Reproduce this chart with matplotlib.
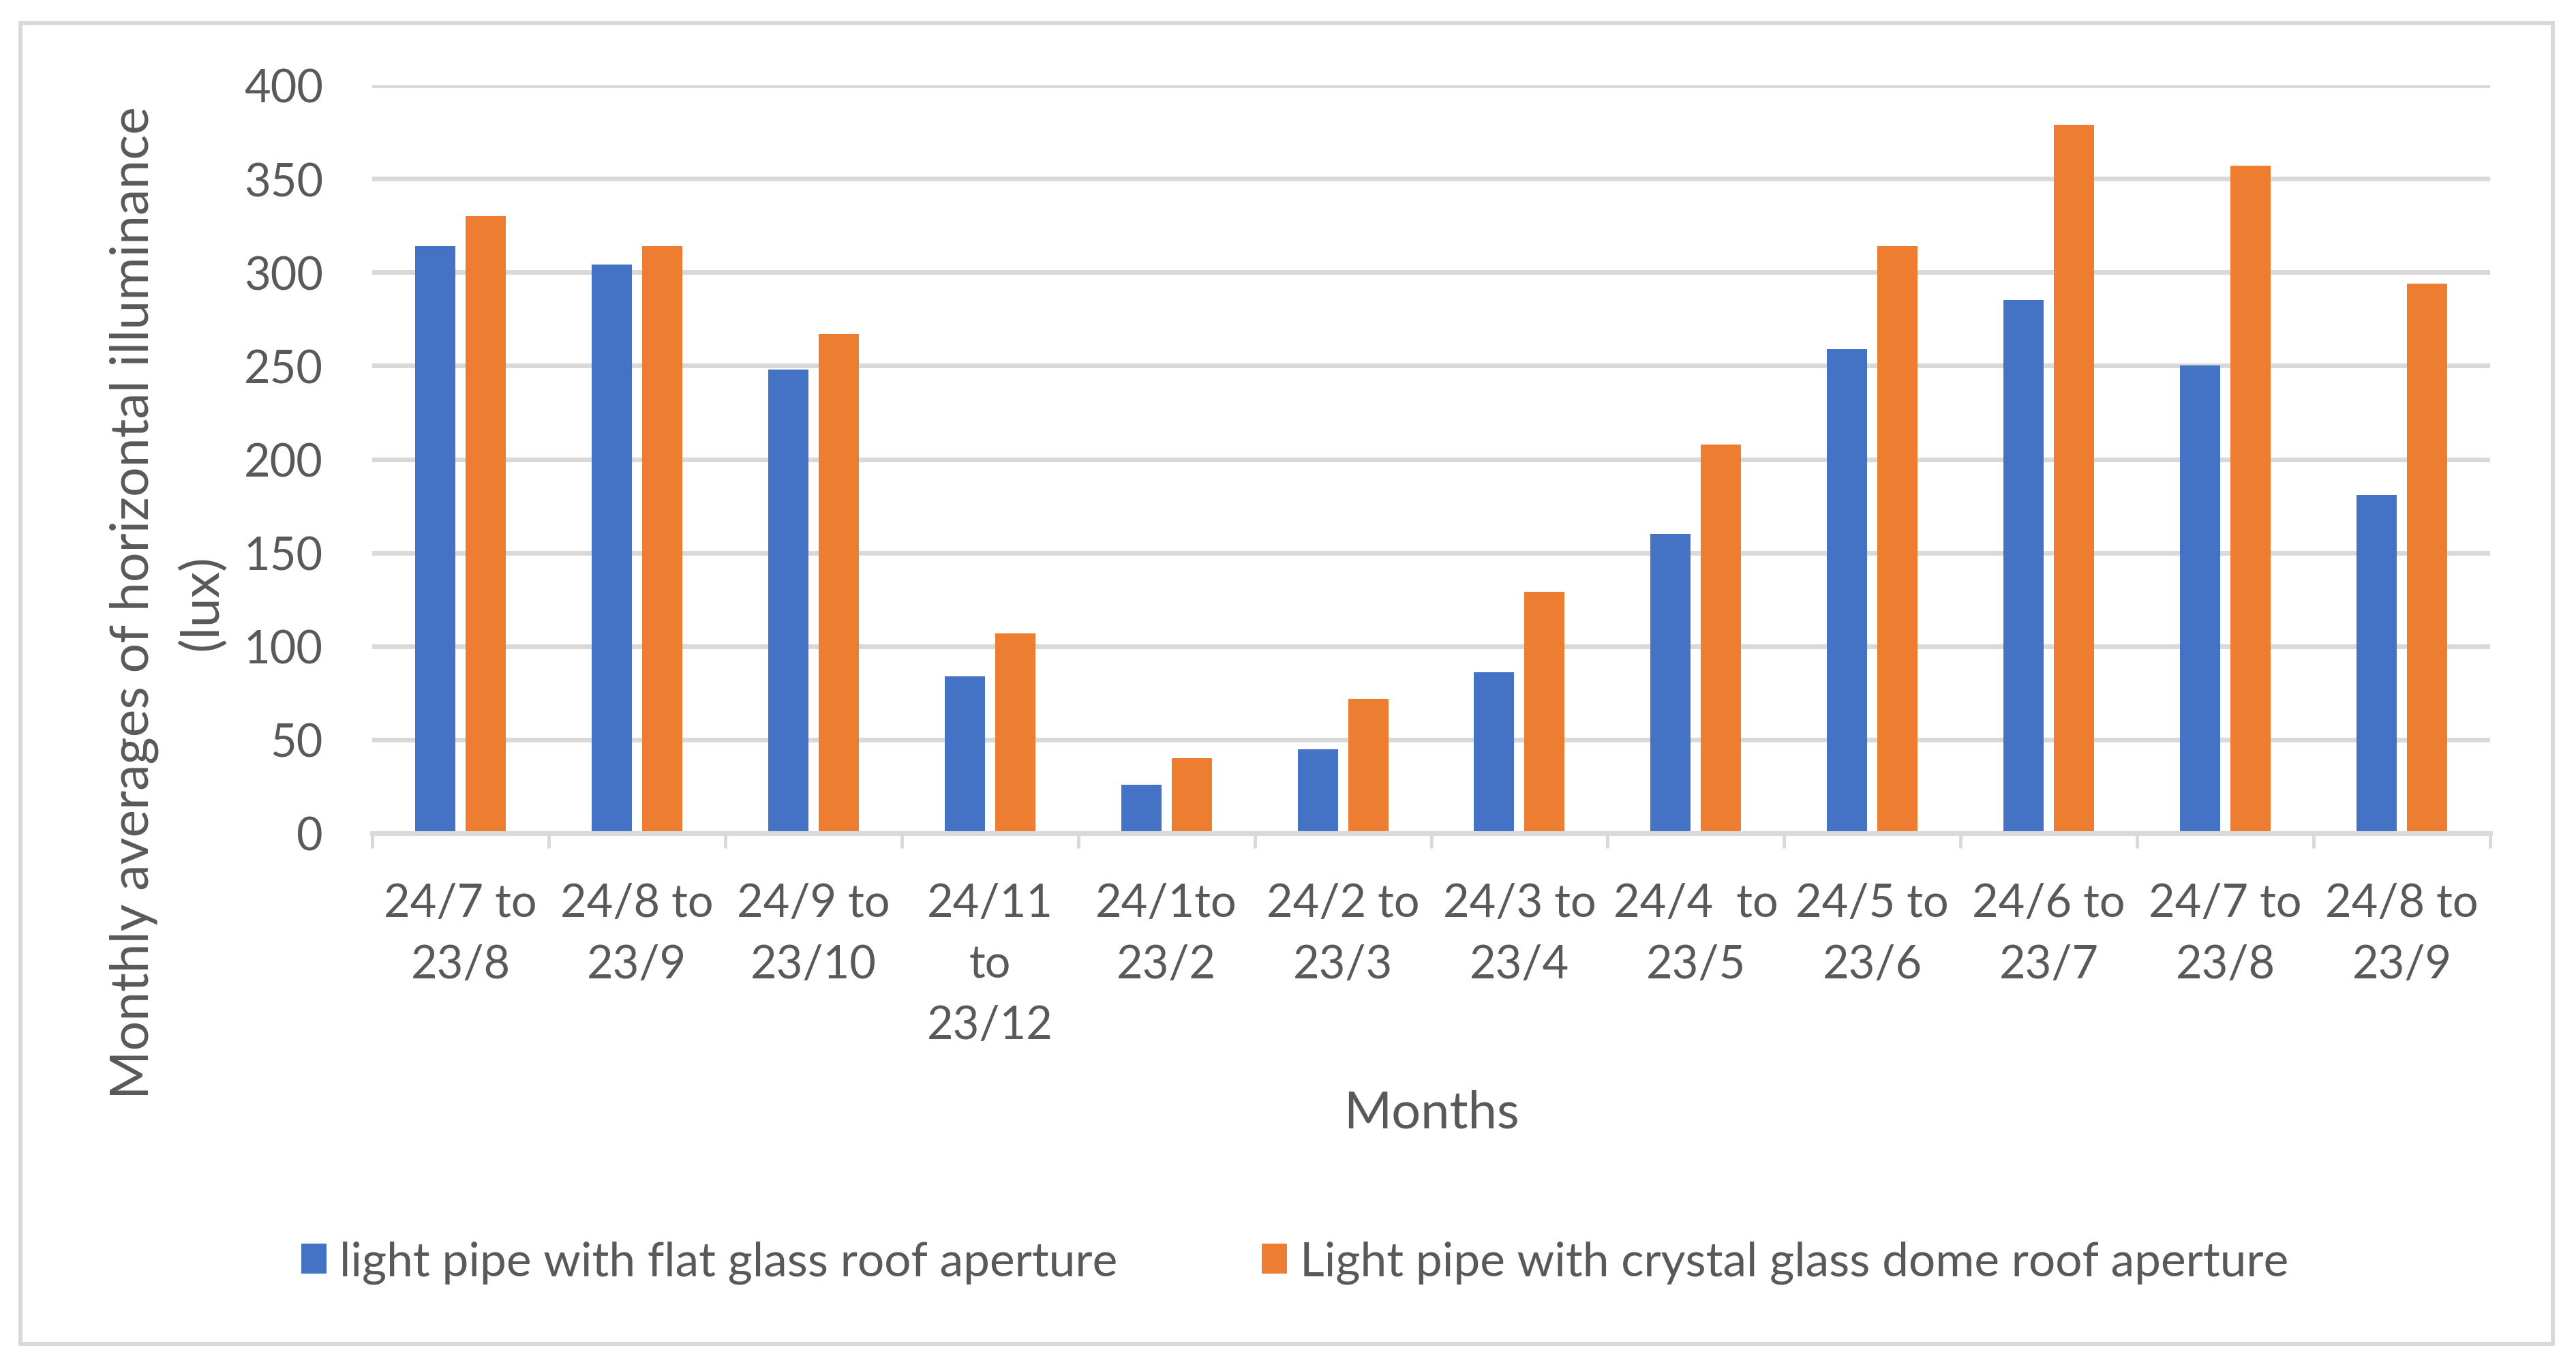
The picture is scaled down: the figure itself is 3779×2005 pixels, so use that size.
import matplotlib
matplotlib.use("Agg")
import matplotlib.pyplot as plt
from matplotlib.patches import Rectangle, Patch
from matplotlib.ticker import FixedLocator
import numpy as np

categories = ["24/7 to\n23/8", "24/8 to\n23/9", "24/9 to\n23/10", "24/11\nto\n23/12",
              "24/1to\n23/2", "24/2 to\n23/3", "24/3 to\n23/4", "24/4  to\n23/5",
              "24/5 to\n23/6", "24/6 to\n23/7", "24/7 to\n23/8", "24/8 to\n23/9"]
flat_glass = [314, 304, 248, 84, 26, 45, 86, 160, 259, 285, 250, 181]
dome_glass = [330, 314, 267, 107, 40, 72, 129, 208, 314, 379, 357, 294]
series_names = ["light pipe with flat glass roof aperture",
                "Light pipe with crystal glass dome roof aperture"]
y_ticks = [0, 50, 100, 150, 200, 250, 300, 350, 400]
x_title = "Months"
y_title = "Monthly averages of horizontal illuminance\n(lux)"

BLUE = "#4472C4"
ORANGE = "#ED7D31"
GRID = "#D9D9D9"
TEXT = "#595959"

plt.rcParams['font.family'] = ['Lato', 'DejaVu Sans']

W, H = 3779, 2006
fig = plt.figure(figsize=(W / 100, H / 100), dpi=100)
fig.patch.set_facecolor("white")
renderer = fig.canvas.get_renderer()


def linespacing_for(fontsize, target_px):
    t1 = fig.text(0, 0, "lp", fontsize=fontsize, linespacing=1.0)
    t2 = fig.text(0, 0, "lp\nlp", fontsize=fontsize, linespacing=1.0)
    h1 = t1.get_window_extent(renderer).height
    h2 = t2.get_window_extent(renderer).height
    t1.remove()
    t2.remove()
    base = h2 - h1
    return target_px / base if base > 0 else 1.2


TICK_FS = 48
TITLE_FS = 55.5
LEG_FS = 50
ls_ticks = linespacing_for(TICK_FS, 96)
ls_ytitle = linespacing_for(TITLE_FS, 104)

# outer frame
fig.patches.append(Rectangle((30 / W, 1 - 1972 / H), (3745 - 30) / W, (1972 - 35) / H,
                             transform=fig.transFigure, fill=False,
                             edgecolor=GRID, linewidth=4.3, zorder=0))

ax = fig.add_axes([546 / W, 1 - 1223 / H, (3653 - 546) / W, (1223 - 126) / H])
x = np.arange(len(categories))
bw = 0.228
off = 0.143
ax.bar(x - off, flat_glass, width=bw, color=BLUE, zorder=3)
ax.bar(x + off, dome_glass, width=bw, color=ORANGE, zorder=3)

ax.set_xlim(-0.5, len(categories) - 0.5)
ax.set_ylim(0, 400)
ax.set_yticks(y_ticks)
ax.yaxis.grid(True, color=GRID, linewidth=5, zorder=0)
ax.set_axisbelow(True)
for s in ["top", "right", "left"]:
    ax.spines[s].set_visible(False)
ax.spines["bottom"].set_color(GRID)
ax.spines["bottom"].set_linewidth(5)
ax.spines["bottom"].set_zorder(4)

ax.set_xticks(x)
ax.set_xticklabels(categories, fontsize=TICK_FS, color=TEXT, linespacing=ls_ticks)
ax.xaxis.set_minor_locator(FixedLocator(np.arange(-0.5, len(categories), 1.0)))
ax.tick_params(axis="x", which="major", length=0, pad=52)
ax.tick_params(axis="x", which="minor", length=16, width=3.5, color=GRID, direction="out")
ax.tick_params(axis="y", length=0, pad=52, labelsize=TICK_FS, labelcolor=TEXT)

fig.text(2100 / W, 1 - 1655 / H, x_title, fontsize=54.5, color=TEXT,
         ha="center", va="baseline")
fig.text(291 / W, 1 - 884 / H, y_title,
         fontsize=TITLE_FS, color=TEXT, rotation=90, rotation_mode="anchor",
         ha="center", va="baseline", multialignment="center", linespacing=ls_ytitle)

handles = [Patch(facecolor=BLUE, edgecolor="none"), Patch(facecolor=ORANGE, edgecolor="none")]
fs_px = LEG_FS * 100 / 72
fig.legend(handles, series_names, loc="center", bbox_to_anchor=(1900 / W, 1 - 1852 / H),
           ncol=2, frameon=False, fontsize=LEG_FS, labelcolor=TEXT,
           handlelength=37 / fs_px, handleheight=42 / fs_px,
           handletextpad=19 / fs_px, columnspacing=212 / fs_px)

fig.savefig("out.png", dpi=100, facecolor="white")
